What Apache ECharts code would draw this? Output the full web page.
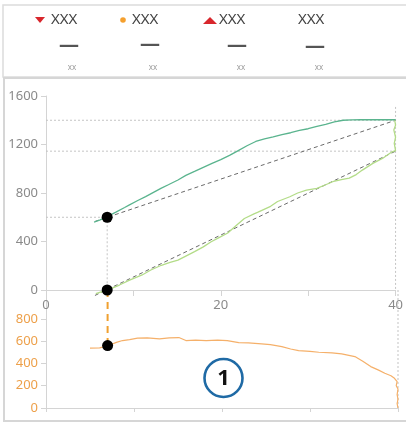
<!DOCTYPE html>
<html><head><meta charset="utf-8">
<script src="https://cdn.jsdelivr.net/npm/echarts@6/dist/echarts.min.js"></script>
<style>html,body{margin:0;padding:0;background:#fff}#c{width:406px;height:425px}</style>
</head><body><div id="c"></div>
<script>
// ---- data ----
const xTicksTop = [0, 20, 40];
const yTicksTop = [0, 400, 800, 1200, 1600];
const yTicksBottom = [0, 200, 400, 600, 800];
const legendNames = ['XXX', 'XXX', 'XXX', 'XXX'];
const legendValues = ['—', '—', '—', '—'];
const legendUnits = ['xx', 'xx', 'xx', 'xx'];

const seriesUpper = [[5.5,560],[6.2,578],[7,605],[8,642],[9,680],[9.5,700],[10.5,738],[11.4,770],[12.3,805],[13.2,840],[14,868],[15.1,907],[16,945],[17,978],[18,1012],[19,1045],[20,1075],[21,1110],[22,1150],[23,1190],[24,1225],[25,1246],[26,1262],[27,1282],[28,1297],[29,1316],[30,1330],[31,1350],[32,1366],[33,1386],[34,1400],[35,1403],[36,1404],[37,1404],[38,1404],[39,1404],[40,1404]];
const seriesLower = [[5.7,-30],[6.5,-12],[7.3,8],[8.4,41],[9.5,80],[11,124],[12,165],[13.2,204],[14.2,228],[15.1,247],[16,280],[17,316],[18,356],[18.9,398],[19.8,432],[20.8,470],[21.7,528],[22.7,590],[23.8,628],[24.2,640],[25.7,690],[26.5,730],[27.9,769],[28.8,800],[29.8,824],[31,838],[32,868],[32.8,893],[33.8,910],[34.7,923],[35.5,952],[36.2,989],[37.4,1044],[38.5,1085],[39.6,1140],[40,1150],[39.85,1210],[40,1260],[39.8,1320],[40,1360],[39.9,1400]];
const seriesBottom = [[5,538],[6.1,540],[7.1,561],[8,590],[8.7,606],[9.5,615],[10.4,628],[11.5,630],[12.9,621],[14,630],[15.1,633],[15.9,606],[17,610],[18.2,606],[19.5,610],[20.6,606],[21.9,588],[23,585],[24.5,576],[25.5,570],[26.8,552],[27.8,530],[28.7,516],[30,508],[31,501],[32.5,495],[33.6,486],[35.1,462],[36,420],[36.9,372],[37.8,340],[38.5,312],[39.2,290],[39.6,267],[39.9,237],[39.8,200],[40,170],[39.9,120],[40,80],[39.9,40],[40,0]];
const trendUpper = [[5.6,565],[40,1400]];
const trendLower = [[5.6,-45],[40,1145]];
const refH1 = [[0,1400],[40,1400]];
const refH2 = [[0,1145],[40,1145]];
const refH3 = [[0,600],[7,600]];
const refV1 = [[7,600],[7,0]];
const refV2 = [[40,1510],[40,0]];
const refV2b = [[40,1060],[40,0]];
const dotsTop = [[7,600],[7,0]];
const dotsBottom = [[7,561]];
const connector = [[7,1060],[7,561]];
const annotationLabel = '1';

const FONT = '"Noto Sans", "Open Sans", sans-serif';
const gray = '#8a8a8a', axisCol = '#d4d4d4', orange = '#eda04a';
const chart = echarts.init(document.getElementById('c'), null, {renderer:'canvas'});

const dotted = {color:'#c4c4c4', width:1, type:[2,2]};
function refLine(data, xi, yi){ return {type:'line', data, xAxisIndex:xi, yAxisIndex:yi, symbol:'none', lineStyle:dotted, silent:true, clip:false, z:1}; }

const legendX = [51, 132, 219, 298];
const dashX = [69, 150, 237, 315];
const dashY = [45, 44, 45, 46];
const unitX = [72, 153, 241, 319];
const graphics = [
  {type:'rect', shape:{x:3,y:5,width:420,height:72}, style:{fill:'none', stroke:'#dcdcdc', lineWidth:1.5}, silent:true},
  {type:'rect', shape:{x:4,y:78,width:420,height:343}, style:{fill:'none', stroke:'#d6d6d6', lineWidth:2}, silent:true},
  {type:'polygon', shape:{points:[[35,17],[45,17],[40,23]]}, style:{fill:'#d8262c'}},
  {type:'circle', shape:{cx:123,cy:20,r:2.8}, style:{fill:'#f5a02e'}},
  {type:'polygon', shape:{points:[[203,24],[217,24],[210,17]]}, style:{fill:'#d8262c'}},
  {type:'circle', shape:{cx:223.5,cy:378,r:19}, style:{fill:'none', stroke:'#1f6aa5', lineWidth:2.6}},
  {type:'text', x:223.5, y:379, style:{text:annotationLabel, font:'bold 22px ' + FONT, fill:'#111', align:'center', verticalAlign:'middle'}}
];
legendNames.forEach((n,i)=>{
  graphics.push({type:'text', x:legendX[i], y:20, style:{text:n, font:'15px ' + FONT, fill:'#454545', verticalAlign:'middle'}});
  graphics.push({type:'text', x:dashX[i], y:dashY[i], style:{text:legendValues[i], font:'bold 20px ' + FONT, fill:'#555', align:'center', verticalAlign:'middle'}});
  graphics.push({type:'text', x:unitX[i], y:68, style:{text:legendUnits[i], font:'8px ' + FONT, fill:'#9a9a9a', align:'center', verticalAlign:'middle'}});
});

chart.setOption({
  animation:false,
  textStyle:{fontFamily:FONT},
  grid:[{left:46, right:8, top:96, height:194}, {left:46, right:8, top:290, height:118}],
  xAxis:[
    {type:'value', gridIndex:0, min:0, max:40, interval:10,
     axisLine:{lineStyle:{color:axisCol}}, axisTick:{show:true, length:6, lineStyle:{color:axisCol}},
     axisLabel:{color:gray, fontSize:13, margin:9, formatter:v=> xTicksTop.includes(v) ? String(v) : ''}, splitLine:{show:false}},
    {type:'value', gridIndex:1, min:0, max:40, interval:10,
     axisLine:{lineStyle:{color:axisCol}}, axisTick:{show:true, length:4, lineStyle:{color:axisCol}},
     axisLabel:{show:false}, splitLine:{show:false}}
  ],
  yAxis:[
    {type:'value', gridIndex:0, min:0, max:1600, interval:400,
     axisLine:{show:true, lineStyle:{color:axisCol}}, axisTick:{show:true, length:5, lineStyle:{color:axisCol}},
     axisLabel:{color:gray, fontSize:13, margin:8, formatter:v=> yTicksTop.includes(v) ? String(v) : ''}, splitLine:{show:false}},
    {type:'value', gridIndex:1, min:0, max:1060, interval:200,
     axisLine:{show:true, lineStyle:{color:axisCol}},
     axisTick:{show:true, length:5, lineStyle:{color:axisCol}, customValues:yTicksBottom},
     axisLabel:{color:orange, fontSize:13, margin:8, customValues:yTicksBottom, formatter:v=> yTicksBottom.includes(v) ? String(v) : ''}, splitLine:{show:false}}
  ],
  graphic:graphics,
  series:[
    refLine(refH1,0,0), refLine(refH2,0,0), refLine(refH3,0,0), refLine(refV1,0,0), refLine(refV2,0,0), refLine(refV2b,1,1),
    {type:'line', data:trendUpper, xAxisIndex:0, yAxisIndex:0, symbol:'none', clip:false, lineStyle:{color:'#6a6a6a', width:1, type:[4,3]}, z:2},
    {type:'line', data:trendLower, xAxisIndex:0, yAxisIndex:0, symbol:'none', clip:false, lineStyle:{color:'#6a6a6a', width:1, type:[4,3]}, z:2},
    {type:'line', data:seriesUpper, xAxisIndex:0, yAxisIndex:0, symbol:'none', clip:false, lineStyle:{color:'#5ab48e', width:1.3}, z:3},
    {type:'line', data:seriesLower, xAxisIndex:0, yAxisIndex:0, symbol:'none', clip:false, lineStyle:{color:'#b3dc88', width:1.3}, z:3},
    {type:'line', data:seriesBottom, xAxisIndex:1, yAxisIndex:1, symbol:'none', clip:false, lineStyle:{color:'#f5b06a', width:1.2}, z:3},
    {type:'line', data:connector, xAxisIndex:1, yAxisIndex:1, symbol:'none', clip:false, lineStyle:{color:'#f0a030', width:2, type:[7,5]}, z:4},
    {type:'scatter', data:dotsTop, xAxisIndex:0, yAxisIndex:0, symbol:'circle', symbolSize:11, itemStyle:{color:'#000', opacity:1}, clip:false, z:5},
    {type:'scatter', data:dotsBottom, xAxisIndex:1, yAxisIndex:1, symbol:'circle', symbolSize:11, itemStyle:{color:'#000', opacity:1}, clip:false, z:5}
  ]
});
</script></body></html>
